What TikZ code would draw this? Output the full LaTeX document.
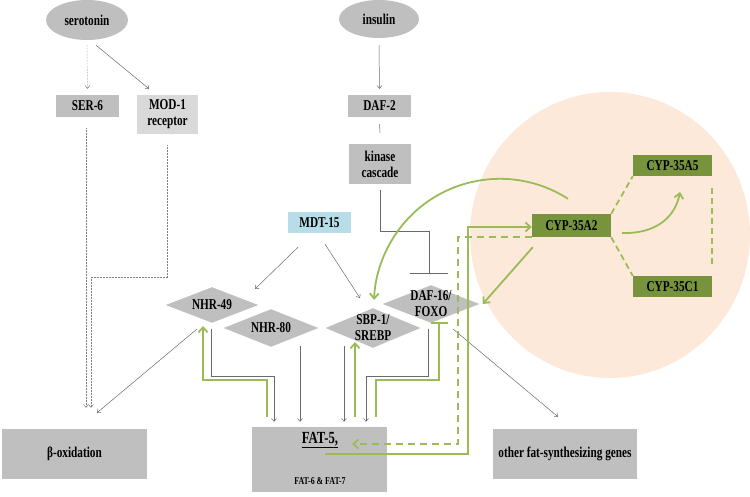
\documentclass[tikz,border=0pt]{standalone}
\usepackage{fontspec}
\setmainfont{Liberation Serif}[FakeStretch=0.75]
\usetikzlibrary{shapes.geometric,arrows.meta}
\definecolor{boxgray}{HTML}{BFBFBF}
\definecolor{modgray}{HTML}{D9D9D9}
\definecolor{mdtblue}{HTML}{B7DEE8}
\definecolor{peach}{HTML}{FDE9D9}
\definecolor{cypgreen}{HTML}{77933C}
\definecolor{lgreen}{HTML}{9BBB59}
\definecolor{conn}{HTML}{6A6A6A}
\begin{document}
\begin{tikzpicture}[x=1pt,y=-1pt,
  txt/.style={font=\fontsize{15}{16}\selectfont\bfseries, align=center, text=black},
  gbox/.style={rectangle, fill=boxgray, inner sep=0pt},
  oval/.style={ellipse, fill=boxgray, inner sep=0pt},
  dia/.style={diamond, fill=boxgray, draw=white, line width=1.5pt, inner sep=0pt},
  cyp/.style={rectangle, fill=cypgreen, inner sep=0pt, minimum width=79pt},
  gline/.style={draw=conn, line width=0.5pt},
  garr/.style={gline, -{Straight Barb[length=3pt,width=5pt]}},
  dotarr/.style={garr, draw=gray, densely dotted},
  gbar/.style={gline, -{Bar[width=38pt]}},
  grline/.style={draw=lgreen, line width=1.8pt},
  grarr/.style={grline, -{Straight Barb[length=5pt,width=9pt]}},
  grbar/.style={grline, -{Bar[width=17pt]}},
  grdash/.style={grarr, dash pattern=on 7pt off 5pt},
  cypdash/.style={grline, dash pattern=on 6pt off 4pt}]
\useasboundingbox (0,0) rectangle (750,497);
\fill[peach] (610,235) ellipse [x radius=140, y radius=143];

% nodes
\node[oval, minimum width=82pt, minimum height=40pt, txt] (sero) at (87,20) {serotonin};
\node[oval, minimum width=80pt, minimum height=38pt, txt] (ins) at (379,19) {insulin};
\node[gbox, minimum width=63pt, minimum height=22pt, txt] (ser6) at (87.5,106) {SER-6};
\node[gbox, fill=modgray, minimum width=61pt, minimum height=39pt, txt] (mod1) at (167.5,114.5) {MOD-1\\receptor};
\node[gbox, minimum width=63pt, minimum height=22pt, txt] (daf2) at (379.5,106) {DAF-2};
\node[gbox, minimum width=62pt, minimum height=40pt, txt] (kin) at (380,164) {kinase\\cascade};
\node[gbox, fill=mdtblue, minimum width=63pt, minimum height=21pt, txt] (mdt) at (319.5,222.5) {MDT-15};

\node[dia, minimum width=98pt, minimum height=38pt, label={[txt]center:NHR-49}] (nhr49) at (212,305) {};
\node[dia, minimum width=100pt, minimum height=40pt, label={[txt]center:NHR-80}] (nhr80) at (271,328) {};
\node[dia, minimum width=100pt, minimum height=42pt, label={[txt]center:{SBP-1/\\SREBP}}] (sbp) at (373,328) {};
\node[dia, minimum width=102pt, minimum height=40pt, label={[txt]center:{DAF-16/\\FOXO}}] (daf16) at (431,304) {};

\node[gbox, minimum width=145pt, minimum height=50pt, txt] (beta) at (74.5,454) {β-oxidation};
\node[gbox, minimum width=135pt, minimum height=65pt] (fat) at (319.5,459.5) {};
\node[txt, font=\fontsize{17}{18}\selectfont\bfseries] (fat5) at (320,440) {\underline{FAT-5,}};
\node[txt, font=\fontsize{10.5}{12}\selectfont\bfseries] (fat67) at (320,481) {FAT-6 \& FAT-7};
\node[gbox, minimum width=144pt, minimum height=50pt, txt] (other) at (565,454) {other fat-synthesizing genes};

\node[cyp, minimum height=23pt, txt] (cypA2) at (571.5,225.5) {CYP-35A2};
\node[cyp, minimum height=21pt, txt] (cypA5) at (672.5,165.5) {CYP-35A5};
\node[cyp, minimum height=21pt, txt] (cypC1) at (672.5,286.5) {CYP-35C1};

% gray connectors
\draw[dotarr] ([yshift=-5pt]sero.south) -- ([yshift=6pt]ser6.north);
\draw[garr] ([xshift=9pt,yshift=-5pt]sero.south) -- ([xshift=-18.5pt,yshift=6pt]mod1.north);
\draw[dotarr] ([xshift=-1.5pt,yshift=-11pt]ser6.south) -- ([xshift=11.5pt,yshift=21pt]beta.north);
\draw[dotarr] ([yshift=-11pt]mod1.south) -- ++(0,132) -| ([xshift=16.5pt,yshift=21pt]beta.north);
\draw[garr] ([yshift=-7pt]ins.south) -- ([yshift=6pt]daf2.north);
\draw[gline] ([yshift=-7pt]daf2.south) -- ([yshift=11pt]kin.north);
\draw[gbar] ([yshift=-6pt]kin.south) -- ++(0,41) -| ([xshift=-2pt,yshift=10pt]daf16.north);
\draw[garr] ([xshift=-21.5pt,yshift=-14pt]mdt.south) -- ([xshift=43pt,yshift=16pt]nhr49.center);
\draw[garr] ([xshift=5.5pt,yshift=-11pt]mdt.south) -- ([xshift=-13pt,yshift=30pt]sbp.center);
\draw[garr] ([xshift=-15pt,yshift=-24pt]nhr49.center) -- ([xshift=22.5pt,yshift=16pt]beta.north);
\draw[garr] ([xshift=-1pt,yshift=-24pt]nhr49.center) -- ++(0,47) -| ([xshift=-45.5pt,yshift=5pt]fat.north);
\draw[garr] ([xshift=29pt,yshift=-18pt]nhr80.center) -- ([xshift=-19.5pt,yshift=5pt]fat.north);
\draw[garr] ([xshift=-29pt,yshift=-18pt]sbp.center) -- ([xshift=24.5pt,yshift=5pt]fat.north);
\draw[garr] ([xshift=-3pt,yshift=-25pt]daf16.center) -- ++(0,47) -| ([xshift=46.5pt,yshift=5pt]fat.north);
\draw[garr] ([xshift=22pt,yshift=-25pt]daf16.center) -- ([xshift=-7pt,yshift=12pt]other.north);

% green connectors
\draw[grarr] ([xshift=-52.5pt,yshift=10pt]fat.north) -- ++(0,-37) -| ([xshift=-9pt,yshift=-21pt]nhr49.center);
\draw[grarr] ([xshift=35.5pt,yshift=10pt]fat.north) -- ([xshift=-18pt,yshift=-14pt]sbp.center);
\draw[grbar] ([xshift=56.5pt,yshift=10pt]fat.north) -- ++(0,-37) -| ([xshift=8pt,yshift=-18pt]daf16.center);
\draw[grarr] ([xshift=5.5pt,yshift=5.5pt]fat.center) -- ++(143,0) |- ([yshift=-1.5pt]cypA2.west);
\draw[grdash] (cypA2.south west) -- ++(-74,0) |- ([xshift=32.5pt,yshift=15.5pt]fat.center);
\draw[grarr] ([xshift=1pt,yshift=-10pt]cypA2.south west) -- (daf16.east);
\draw[grarr] ([xshift=-3.5pt,yshift=15pt]cypA2.north) arc[start angle=-57.3, end angle=-177.7, radius=126];
\draw[cypdash] (cypA2.north east) -- (cypA5.south west);
\draw[cypdash] (cypA2.south east) -- (cypC1.north west);
\draw[cypdash] ([yshift=-12pt]cypA5.south east) -- ([yshift=10pt]cypC1.north east);
\coordinate (curvtip) at (680,192);
\draw[grarr] ([xshift=11pt,yshift=-7.5pt]cypA2.east) .. controls (655,234) and (675,218) .. (curvtip);
\end{tikzpicture}
\end{document}
